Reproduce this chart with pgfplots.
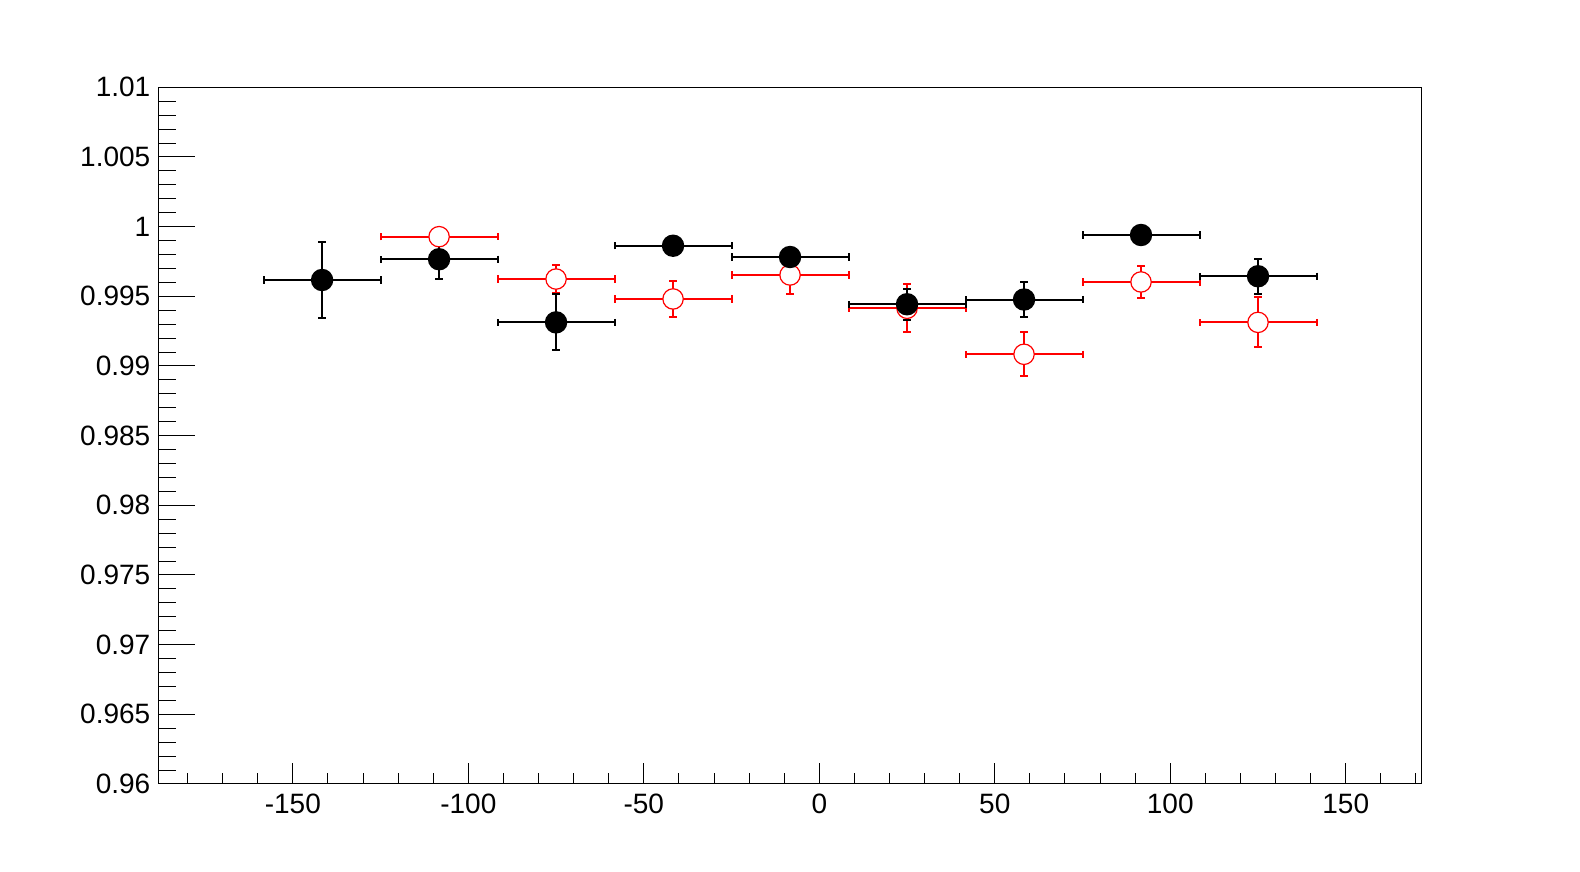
\documentclass[border=0pt]{standalone}
\usepackage{pgfplots}
\pgfplotsset{compat=1.18}
\usepackage{fontspec}
\setmainfont{Liberation Sans}
\begin{document}
\begin{tikzpicture}
\pgfplotsset{
  common/.style={
    width=631.75pt, height=348.35pt, scale only axis,
    at={(79.15pt,44pt)}, anchor=south west,
    xmin=-188.333, xmax=171.667, ymin=0.96, ymax=1.01,
    axis line style={line width=0.5pt},
    tick style={black, line width=0.5pt},
    tick align=inside,
    font=\fontsize{14}{16}\selectfont,
    /pgf/number format/assume math mode=true,
    scaled y ticks=false,
  },
  ebars/.style={
    error bars/.cd,
      x dir=both, x explicit, y dir=both, y explicit,
      error bar style={line width=1pt},
      error mark=|,
      error mark options={mark size=1.8pt, line width=1pt},
  }
}
% y ticks axis
\begin{axis}[common,
  xtick=\empty,
  ytick pos=left,
  ytick={0.96,0.965,0.97,0.975,0.98,0.985,0.99,0.995,1,1.005,1.01},
  yticklabels={0.96,0.965,0.97,0.975,0.98,0.985,0.99,0.995,1,1.005,1.01},
  minor ytick={0.961,0.962,0.963,0.964,0.966,0.967,0.968,0.969,0.971,0.972,0.973,0.974,0.976,0.977,0.978,0.979,0.981,0.982,0.983,0.984,0.986,0.987,0.988,0.989,0.991,0.992,0.993,0.994,0.996,0.997,0.998,0.999,1.001,1.002,1.003,1.004,1.006,1.007,1.008,1.009},
  major tick length=18.5pt, minor tick length=9pt,
  yticklabel style={inner sep=0pt, xshift=-3.8pt},
]
\end{axis}
% x ticks + data axis
\begin{axis}[common,
  ytick=\empty,
  xtick pos=left,
  xtick={-150,-100,-50,0,50,100,150},
  xticklabels={-150,-100,-50,0,50,100,150},
  minor xtick={-180,-170,-160,-140,-130,-120,-110,-90,-80,-70,-60,-40,-30,-20,-10,10,20,30,40,60,70,80,90,110,120,130,140,160,170},
  major tick length=10.5pt, minor tick length=5.5pt,
  xticklabel style={inner sep=0pt, yshift=-5pt},
]
\addplot[red, line width=1pt, only marks,
  mark=*, mark size=5.1pt, mark options={fill=white, line width=0.6pt},
  ebars]
coordinates {
(-108.333,0.99928) +- (16.667,0.0005)
(-75,0.99624) +- (16.667,0.00103)
(-41.667,0.99481) +- (16.667,0.00129)
(-8.333,0.99653) +- (16.667,0.00134)
(25,0.99414) +- (16.667,0.00172)
(58.333,0.99084) +- (16.667,0.00157)
(91.667,0.99603) +- (16.667,0.00118)
(125,0.99313) +- (16.667,0.0018)
};
\addplot[black, line width=1pt, only marks,
  mark=*, mark size=5.1pt, mark options={fill=black},
  ebars]
coordinates {
(-141.667,0.99617) +- (16.667,0.00273)
(-108.333,0.99766) +- (16.667,0.00139)
(-75,0.99313) +- (16.667,0.00201)
(-41.667,0.99863) +- (16.667,0.0004)
(-8.333,0.99782) +- (16.667,0.0005)
(25,0.99443) +- (16.667,0.0011)
(58.333,0.99477) +- (16.667,0.00126)
(91.667,0.9994) +- (16.667,0.0004)
(125,0.99644) +- (16.667,0.00127)
};
\end{axis}
\pgfresetboundingbox
\path[use as bounding box] (0,0) rectangle (790pt,436pt);
\end{tikzpicture}
\end{document}
